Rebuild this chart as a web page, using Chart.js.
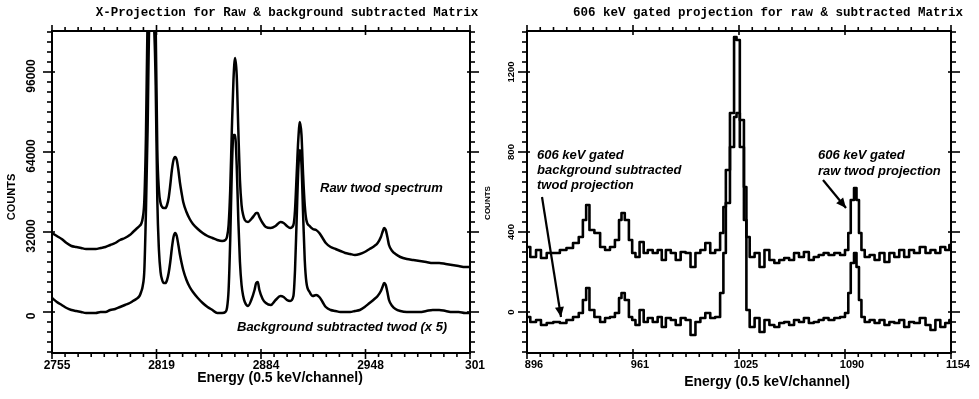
<!DOCTYPE html>
<html><head><meta charset="utf-8">
<script src="https://cdn.jsdelivr.net/npm/chart.js@4.4.1/dist/chart.umd.min.js"></script>
<style>
html,body{margin:0;padding:0;background:#fff;}
#wrap{position:relative;width:979px;height:399px;background:#fff;}
canvas{position:absolute;left:0;top:0;}
</style></head><body>
<div id="wrap"><canvas id="cL" width="979" height="399"></canvas><canvas id="cR" width="979" height="399"></canvas></div>
<script>
// ---------- LEFT PANEL DATA ----------
const leftChannels = [2755,2758,2761,2764,2767,2770,2773,2776,2779,2782,2785,2788,2791,2794,2797,2800,2803,2805,2807,2809,2810,2811,2812,2813,2814,2815,2816,2817,2818,2819,2820,2821,2822,2823,2824,2825,2826,2827,2828,2829,2830,2831,2832,2833,2834,2835,2836,2838,2840,2842,2845,2848,2851,2854,2857,2860,2862,2863,2864,2865,2866,2867,2868,2869,2870,2871,2872,2873,2874,2876,2878,2880,2881,2882,2883,2885,2887,2890,2893,2896,2898,2900,2902,2904,2905,2906,2907,2908,2909,2910,2911,2912,2914,2916,2918,2920,2922,2924,2927,2930,2933,2936,2939,2942,2945,2948,2951,2954,2956,2958,2959,2960,2961,2962,2963,2965,2967,2970,2974,2978,2982,2986,2990,2994,2998,3002,3006,3010,3013];
const leftRaw = [31600,30400,29200,27600,26400,26000,25600,25200,25200,25200,
25600,26000,26800,27600,28800,29600,30800,32000,33200,34400,
35200,37600,44800,70800,118000,132800,136800,136800,132800,114000,
64800,48800,43600,42000,41600,41600,42800,45600,50800,56800,
60800,62000,60800,56800,51600,47600,44000,40000,37200,35200,
33200,31600,30400,29600,28800,28400,28800,30000,34800,48800,
72800,92800,101600,94800,72800,52800,42800,38800,36800,36000,
37200,38800,39600,39600,38000,35600,34000,33600,34400,36000,
35600,34400,33600,34800,40800,54800,68800,76000,70800,54800,
42800,36800,34400,33200,32800,31600,29600,27600,26000,25200,
24400,23600,23200,22800,23200,24000,25200,26400,27600,30000,
32000,33600,32800,30000,26800,24400,23200,22000,21200,20800,
20400,20000,19600,19600,19200,18800,18400,18000,18000];
const leftSub = [5600,4000,2800,1600,800,400,0,-400,-400,-400,
0,0,800,1200,2000,2800,3600,4400,5200,6400,
8000,10400,16800,40800,72800,114000,118000,118000,114000,90800,
44800,24800,16000,12800,11600,11600,12800,15600,20000,25600,
30000,31600,30400,26800,22800,19600,16800,12800,10000,8000,
5600,3600,2000,800,-400,-400,0,1600,8800,28800,
56800,70800,70800,58800,36800,20000,10800,6400,4000,2400,
4800,8800,11600,12000,8800,5200,3600,2800,4800,6400,
6000,4800,4400,6400,16800,36800,56800,64800,58800,38800,
20800,12000,8000,6400,6800,6000,4000,2000,800,400,
0,0,0,400,800,2000,3600,5200,6400,8400,
10000,11600,10800,8000,4800,2400,1200,400,0,0,
0,400,800,800,400,0,0,-400,-400];
const leftXTicks = [2755, 2819.5, 2884, 2948.5, 3013];
const leftXLabels = ['2755','2819','2884','2948','301'];
const leftYTicks = [0, 32000, 64000, 96000];
const leftYLabels = ['0','32000','64000','96000'];

// ---------- RIGHT PANEL DATA ----------
const rightChannels = [896,900,903,906,910,914,918,922,926,929,
931,933,935,939,942,945,948,951,953,954,
957,959,961,963,966,968,971,974,977,979,
982,985,988,991,994,997,1000,1003,1006,1009,
1012,1015,1016,1018,1021,1023,1024,1027,1029,1030,
1033,1036,1039,1042,1045,1048,1051,1054,1057,1060,
1063,1066,1069,1072,1075,1078,1081,1085,1088,1091,
1092,1094,1096,1097,1099,1100,1103,1106,1109,1112,
1115,1118,1121,1124,1127,1130,1133,1137,1140,1143,
1146,1149,1152,1154];
const rightRaw = [325,275,310,270,295,295,310,320,345,375,
460,535,410,395,325,310,325,360,460,495,
460,360,295,275,350,295,310,295,310,260,
310,295,260,300,295,225,295,310,345,295,
310,395,525,710,995,1375,1360,960,625,375,
275,295,225,310,260,245,260,270,260,295,
275,300,260,275,285,295,285,295,285,310,
395,560,620,560,395,310,275,285,260,295,
250,295,275,310,275,310,295,325,295,310,
295,325,310,335];
const rightSub = [-25,-50,-40,-65,-55,-50,-55,-40,-25,-5,
60,120,10,-25,-50,-30,-25,-5,70,95,
60,-25,-40,-65,10,-50,-30,-50,-25,-75,
-30,-40,-65,-30,-40,-115,-50,-30,-5,-30,
-25,95,295,545,825,975,995,825,460,10,
-75,-30,-100,-40,-65,-75,-55,-50,-65,-40,
-50,-30,-55,-50,-40,-30,-40,-30,-25,-5,
95,245,295,225,60,-25,-50,-40,-55,-40,
-65,-50,-55,-40,-75,-50,-55,-30,-65,-90,
-40,-75,-55,-40];
const rightXTicks = [896, 960.5, 1025, 1089.5, 1154];
const rightXLabels = ['896','961','1025','1090','1154'];
const rightYTicks = [0, 400, 800, 1200];
const rightYLabels = ['0','400','800','1200'];

// ---------- drawing helpers ----------
function seg(ctx,x1,y1,x2,y2){ctx.beginPath();ctx.moveTo(x1,y1);ctx.lineTo(x2,y2);ctx.stroke();}
function arrow(ctx,x1,y1,x2,y2){
  ctx.lineWidth=2.2; seg(ctx,x1,y1,x2,y2);
  const a=Math.atan2(y2-y1,x2-x1), L=10, W=4.5;
  ctx.beginPath(); ctx.moveTo(x2,y2);
  ctx.lineTo(x2-L*Math.cos(a)+W*Math.sin(a), y2-L*Math.sin(a)-W*Math.cos(a));
  ctx.lineTo(x2-L*Math.cos(a)-W*Math.sin(a), y2-L*Math.sin(a)+W*Math.cos(a));
  ctx.closePath(); ctx.fill();
}
function decor(o){
  return {id:'decor', afterDraw(chart){
    const ctx=chart.ctx, a=chart.chartArea, xs=chart.scales.x, ys=chart.scales.y;
    ctx.save();
    ctx.strokeStyle='#000'; ctx.fillStyle='#000';
    ctx.lineWidth=2;
    ctx.strokeRect(a.left,a.top,a.right-a.left,a.bottom-a.top);
    ctx.lineWidth=1.6;
    const xt=o.xTicks;
    for(let i=0;i<xt.length;i++){
      const p=xs.getPixelForValue(xt[i]);
      seg(ctx,p,a.bottom-4,p,a.bottom+6); seg(ctx,p,a.top+4,p,a.top-6);
      if(i<xt.length-1){
        const st=(xt[i+1]-xt[i])/o.xSub;
        for(let k=1;k<o.xSub;k++){const q=xs.getPixelForValue(xt[i]+k*st);
          seg(ctx,q,a.bottom,q,a.bottom+4); seg(ctx,q,a.top,q,a.top-4);}
      }
    }
    for(let v=o.yMinorStart; v<=o.ymax; v+=o.yMinor){
      const p=ys.getPixelForValue(v);
      if(o.yTicks.indexOf(v)>=0){
        seg(ctx,a.left-9,p,a.left+3,p); seg(ctx,a.right-3,p,a.right+9,p);
      } else {
        seg(ctx,a.left-5,p,a.left,p); seg(ctx,a.right,p,a.right+5,p);
      }
    }
    ctx.font=o.yFont; ctx.textAlign='center'; ctx.textBaseline='middle';
    o.yTicks.forEach((v,i)=>{
      const p=ys.getPixelForValue(v);
      ctx.save(); ctx.translate(o.yLabelX, p+o.yLabelDy); ctx.rotate(-Math.PI/2);
      ctx.fillText(o.yLabels[i],0,0); ctx.restore();
    });
    ctx.save(); ctx.font=o.countsFont; ctx.translate(o.countsX,o.countsY); ctx.rotate(-Math.PI/2);
    ctx.fillText('COUNTS',0,0); ctx.restore();
    ctx.font='bold 12.5px "Liberation Mono"'; ctx.textAlign='center'; ctx.textBaseline='middle';
    ctx.fillText(o.title, o.titleX, o.titleY);
    ctx.font='bold 14px "Liberation Sans"';
    ctx.fillText('Energy (0.5 keV/channel)', o.xTitleX, o.xTitleY);
    ctx.font='italic bold 13px "Liberation Sans"'; ctx.textAlign='left';
    o.notes.forEach(n=>ctx.fillText(n[0],n[1],n[2]));
    o.arrows.forEach(r=>arrow(ctx,r[0],r[1],r[2],r[3]));
    ctx.restore();
  }};
}
function makeChart(id, ch, raw, sub, o){
  const ds=(vals)=>({data:ch.map((c,i)=>({x:c,y:vals[i]})), borderColor:'#000', borderWidth:o.lw,
    pointRadius:0, fill:false, tension:0, stepped:o.stepped, cubicInterpolationMode:o.cubic, borderJoinStyle:'round'});
  return new Chart(document.getElementById(id), {
    type:'line',
    data:{datasets:[ds(raw), ds(sub)]},
    options:{
      responsive:false, animation:false, events:[],
      layout:{padding:o.padding},
      plugins:{legend:{display:false}, tooltip:{enabled:false}, title:{display:false}},
      scales:{
        x:{type:'linear', min:o.xmin, max:o.xmax,
          afterBuildTicks:s=>{s.ticks=o.xTicks.map(v=>({value:v}));},
          afterFit:s=>{s.height=46;},
          grid:{display:false, drawTicks:false}, border:{display:false},
          ticks:{autoSkip:false, maxRotation:0, minRotation:0, padding:5, labelOffset:o.xLabelOffset,
            color:'#000', font:{family:'Liberation Sans', weight:'bold', size:o.xFontSize},
            callback:(v,i)=>o.xLabels[i]}},
        y:{type:'linear', min:o.ymin, max:o.ymax,
          afterFit:s=>{s.width=o.yWidth;},
          grid:{display:false, drawTicks:false}, border:{display:false},
          ticks:{display:false}}
      }
    },
    plugins:[decor(o)]
  });
}

makeChart('cL', leftChannels, leftRaw, leftSub, {
  padding:{left:0, top:31, right:509, bottom:0}, yWidth:52, lw:2.5, stepped:false, cubic:'monotone',
  xmin:2755, xmax:3013, ymin:-16400, ymax:112400,
  xTicks:leftXTicks, xLabels:leftXLabels, xSub:8, xLabelOffset:5, xFontSize:12,
  yTicks:leftYTicks, yLabels:leftYLabels, yMinor:4000, yMinorStart:-16000,
  yFont:'bold 12px "Liberation Sans"', yLabelX:32, yLabelDy:4,
  countsFont:'bold 11px "Liberation Sans"', countsX:12, countsY:197,
  title:'X-Projection for Raw & background subtracted Matrix', titleX:287, titleY:13,
  xTitleX:280, xTitleY:378,
  notes:[['Raw twod spectrum',320,188],['Background subtracted twod (x 5)',237,327]],
  arrows:[]
});
makeChart('cR', rightChannels, rightRaw, rightSub, {
  padding:{left:490, top:31, right:28, bottom:0}, yWidth:37, lw:2.6, stepped:'middle', cubic:'default',
  xmin:896, xmax:1154, ymin:-205, ymax:1405,
  xTicks:rightXTicks, xLabels:rightXLabels, xSub:8, xLabelOffset:7, xFontSize:11,
  yTicks:rightYTicks, yLabels:rightYLabels, yMinor:50, yMinorStart:-200,
  yFont:'bold 9.5px "Liberation Sans"', yLabelX:511, yLabelDy:0,
  countsFont:'bold 8px "Liberation Sans"', countsX:488, countsY:203,
  title:'606 keV gated projection for raw & subtracted Matrix', titleX:768, titleY:13,
  xTitleX:767, xTitleY:382,
  notes:[['606 keV gated',537,155],['background subtracted',537,170],['twod projection',537,185],
         ['606 keV gated',818,155],['raw twod projection',818,171]],
  arrows:[[542,197,561,317],[823,180,846,208]]
});
</script>
</body></html>
